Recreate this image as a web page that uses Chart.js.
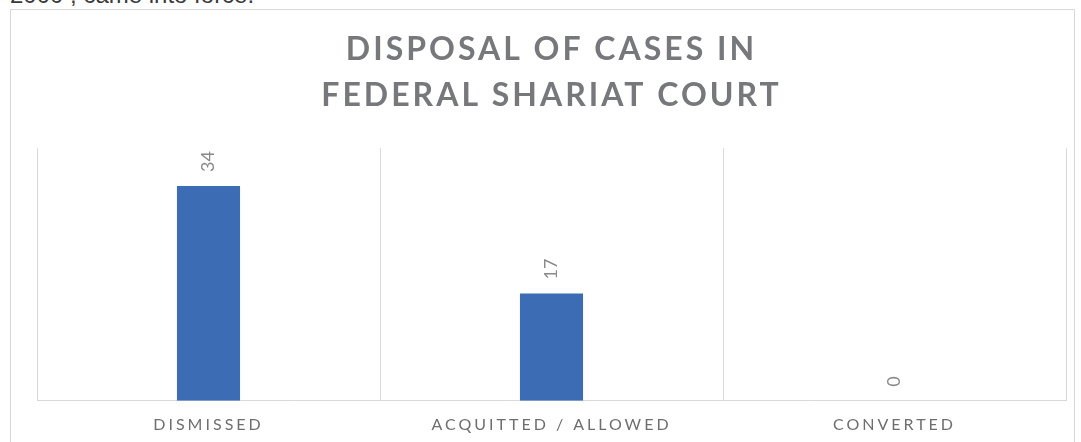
<!DOCTYPE html>
<html>
<head>
<meta charset="utf-8">
<script src="https://cdn.jsdelivr.net/npm/chart.js@4"></script>
<style>
    body { margin: 0; background: #fff; width: 1081px; height: 442px; overflow: hidden; position: relative; font-family: Lato, sans-serif; }
    .above { position: absolute; left: 10px; top: -19px; font-size: 24px; color: #3a3a3a; font-family: "Liberation Sans", sans-serif; white-space: nowrap; }
    .frame { position: absolute; left: 10px; top: 9px; width: 1063px; height: 460px; border: 1px solid #d9d9d9; }
    .frame canvas { position: absolute; left: 0; top: 0; }
</style>
</head>
<body>
<div class="above">2000 , came into force.</div>
<div class="frame">
    <div style="position:absolute;left:0;top:0;width:1063px;height:444px;">
        <canvas id="casesChart"></canvas>
    </div>
</div>
<script>
const categories = ['DISMISSED', 'ACQUITTED / ALLOWED', 'CONVERTED'];
const cases = [34, 17, 0];
const titleLines = ['DISPOSAL OF CASES IN', 'FEDERAL SHARIAT COURT'];

// Подписи значений, повёрнутые на 90°
const barLabels = {
    id: 'barLabels',
    beforeDraw(chart) {
        chart.ctx.letterSpacing = '3px';
    },
    beforeDatasetsDraw(chart) {
        chart.ctx.letterSpacing = '0px';
    },
    afterDatasetsDraw(chart) {
        const ctx = chart.ctx;
        const meta = chart.getDatasetMeta(0);
        ctx.save();
        ctx.font = '18px Lato';
        ctx.fillStyle = '#8a8a8a';
        ctx.textAlign = 'left';
        ctx.textBaseline = 'middle';
        meta.data.forEach((bar, i) => {
            ctx.save();
            ctx.translate(bar.x, bar.y - 14);
            ctx.rotate(-Math.PI / 2);
            ctx.fillText(String(cases[i]), 0, 0);
            ctx.restore();
        });
        ctx.restore();
    }
};

new Chart(document.getElementById('casesChart'), {
    type: 'bar',
    data: {
        labels: categories,
        datasets: [{
            data: cases,
            backgroundColor: '#3B6CB4',
            categoryPercentage: 1,
            barPercentage: 0.184
        }]
    },
    options: {
        responsive: true,
        maintainAspectRatio: false,
        animation: false,
        layout: { padding: { left: 26, right: 8, top: 0, bottom: 6 } },
        plugins: {
            legend: { display: false },
            tooltip: { enabled: false },
            title: {
                display: true,
                text: titleLines,
                color: '#77787b',
                font: { family: 'Lato', size: 32, weight: 'bold', lineHeight: 1.44 },
                padding: { top: 17, bottom: 29 }
            }
        },
        scales: {
            x: {
                grid: { offset: true, color: '#d9d9d9', drawTicks: false },
                border: { color: '#d9d9d9', width: 1 },
                ticks: {
                    color: '#6e6e6e',
                    padding: 14,
                    font: { family: 'Lato', size: 16 }
                }
            },
            y: {
                display: false,
                min: 0,
                max: 40
            }
        }
    },
    plugins: [barLabels]
});
</script>
</body>
</html>
